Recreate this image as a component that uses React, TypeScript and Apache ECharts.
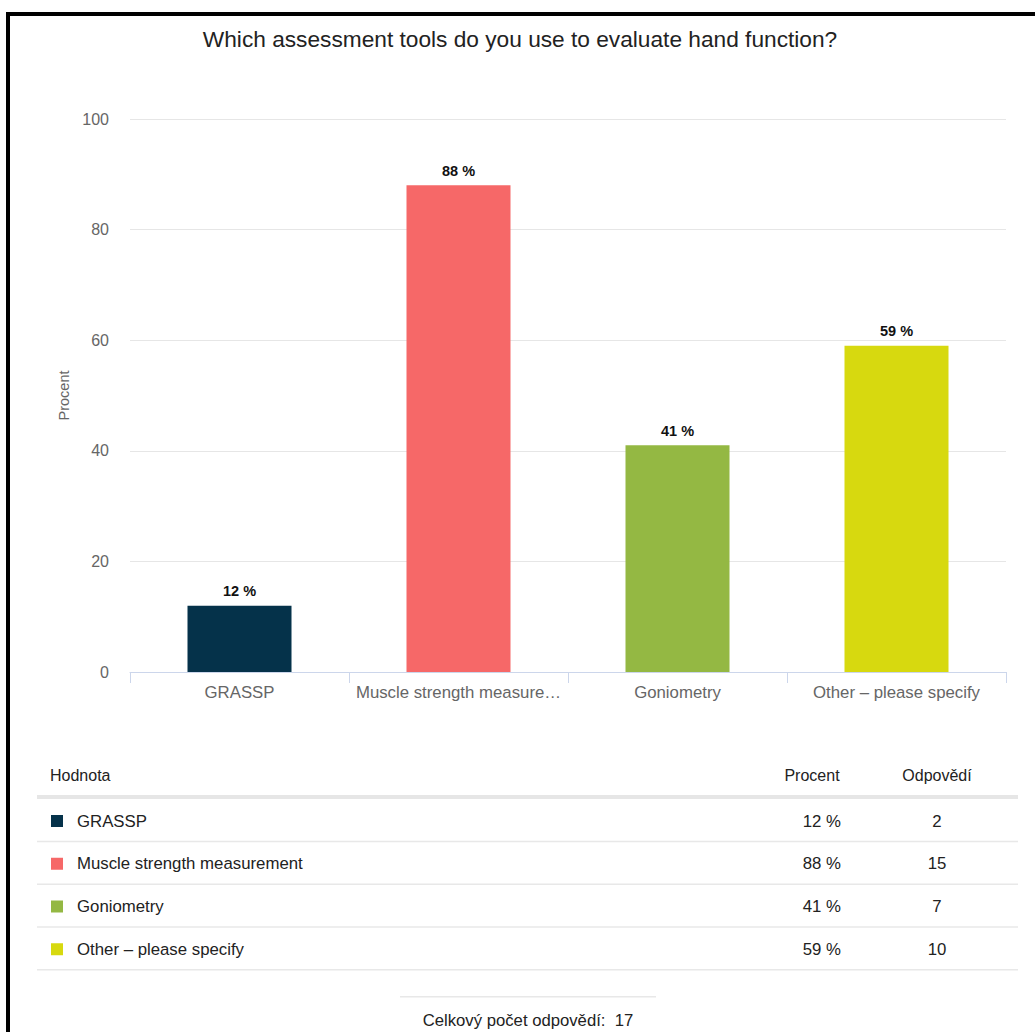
import React, { useEffect, useRef } from "react";
import * as echarts from "echarts";

const FONT = '"Liberation Sans", Arial, Helvetica, sans-serif';

const titleText = "Which assessment tools do you use to evaluate hand function?";
const categories = ["GRASSP", "Muscle strength measurement", "Goniometry", "Other – please specify"];
const percents = [12, 88, 41, 59];
const counts = [2, 15, 7, 10];
const totalResponses = 17;
const barColors = ["#05324a", "#f66868", "#94b843", "#d7d90f"];
const yTicks = [0, 20, 40, 60, 80, 100];
const tableHeaders = ["Hodnota", "Procent", "Odpovědí"];
const totalLabel = "Celkový počet odpovědí:";

export default function App() {
  const ref = useRef<HTMLDivElement>(null);

  useEffect(() => {
    if (!ref.current) return;
    const chart = echarts.init(ref.current, undefined, { renderer: "svg" });

    const graphic: any[] = [];

    // frame (top and left edges)
    graphic.push({ type: "rect", shape: { x: 6, y: 12, width: 1029, height: 4 }, style: { fill: "#000" } });
    graphic.push({ type: "rect", shape: { x: 6, y: 12, width: 4, height: 1020 }, style: { fill: "#000" } });

    // title
    graphic.push({
      type: "text",
      x: 520,
      y: 39,
      style: {
        text: titleText,
        font: `22.7px ${FONT}`,
        fill: "#222",
        align: "center",
        verticalAlign: "middle",
      },
    });

    // table header
    const headerY = 775;
    graphic.push({
      type: "text",
      x: 50,
      y: headerY,
      style: { text: tableHeaders[0], font: `16px ${FONT}`, fill: "#222", align: "left", verticalAlign: "middle" },
    });
    graphic.push({
      type: "text",
      x: 812,
      y: headerY,
      style: { text: tableHeaders[1], font: `16px ${FONT}`, fill: "#222", align: "center", verticalAlign: "middle" },
    });
    graphic.push({
      type: "text",
      x: 937,
      y: headerY,
      style: { text: tableHeaders[2], font: `16px ${FONT}`, fill: "#222", align: "center", verticalAlign: "middle" },
    });
    graphic.push({ type: "rect", shape: { x: 37, y: 795, width: 981, height: 4 }, style: { fill: "#e6e6e6" } });

    // table rows
    const rowTop = 799;
    const rowH = 42.75;
    categories.forEach((name, i) => {
      const cy = rowTop + rowH * i + 22;
      graphic.push({
        type: "rect",
        shape: { x: 51, y: cy - 6, width: 12, height: 12 },
        style: { fill: barColors[i] },
      });
      graphic.push({
        type: "text",
        x: 77,
        y: cy,
        style: { text: name, font: `16.8px ${FONT}`, fill: "#222", align: "left", verticalAlign: "middle" },
      });
      graphic.push({
        type: "text",
        x: 841,
        y: cy,
        style: { text: `${percents[i]} %`, font: `16.8px ${FONT}`, fill: "#222", align: "right", verticalAlign: "middle" },
      });
      graphic.push({
        type: "text",
        x: 937,
        y: cy,
        style: { text: String(counts[i]), font: `16.8px ${FONT}`, fill: "#222", align: "center", verticalAlign: "middle" },
      });
      graphic.push({
        type: "rect",
        shape: { x: 37, y: rowTop + rowH * (i + 1) - 1, width: 981, height: 1.5 },
        style: { fill: "#e8e8e8" },
      });
    });

    // total footer
    graphic.push({ type: "rect", shape: { x: 400, y: 996, width: 256, height: 1.5 }, style: { fill: "#e8e8e8" } });
    graphic.push({
      type: "text",
      x: 528,
      y: 1020,
      style: {
        text: `${totalLabel}  ${totalResponses}`,
        font: `16.7px ${FONT}`,
        fill: "#222",
        align: "center",
        verticalAlign: "middle",
      },
    });

    chart.setOption({
      animation: false,
      backgroundColor: "#fff",
      textStyle: { fontFamily: FONT },
      grid: { left: 130, right: 29, top: 119, bottom: 360, containLabel: false },
      xAxis: {
        type: "category",
        data: categories,
        axisLine: { lineStyle: { color: "#ccd6eb", width: 1 } },
        axisTick: { show: true, interval: 0, length: 11, lineStyle: { color: "#ccd6eb" } },
        axisLabel: {
          interval: 0,
          color: "#666",
          fontSize: 16.8,
          fontFamily: FONT,
          margin: 12,
          width: 212,
          overflow: "truncate",
          ellipsis: "…",
        },
      },
      yAxis: {
        type: "value",
        min: yTicks[0],
        max: yTicks[yTicks.length - 1],
        interval: 20,
        name: "Procent",
        nameLocation: "middle",
        nameGap: 59,
        nameRotate: 90,
        nameTextStyle: { color: "#666", fontSize: 14.5, fontFamily: FONT },
        axisLine: { show: false },
        axisTick: { show: false },
        axisLabel: { color: "#666", fontSize: 16, fontFamily: FONT, margin: 21 },
        splitLine: { lineStyle: { color: "#e6e6e6", width: 1 } },
      },
      series: [
        {
          type: "bar",
          barWidth: 104,
          data: percents.map((v, i) => ({ value: v, itemStyle: { color: barColors[i] } })),
          label: {
            show: true,
            position: "top",
            distance: 7,
            formatter: (p: any) => `${p.value} %`,
            color: "#111",
            fontWeight: "bold",
            fontSize: 14.5,
            fontFamily: FONT,
          },
        },
      ],
      graphic,
    });

    return () => chart.dispose();
  }, []);

  return (
    <div
      ref={ref}
      style={{ position: "absolute", left: 0, top: 0, width: 1035, height: 1032, background: "#fff" }}
    />
  );
}
